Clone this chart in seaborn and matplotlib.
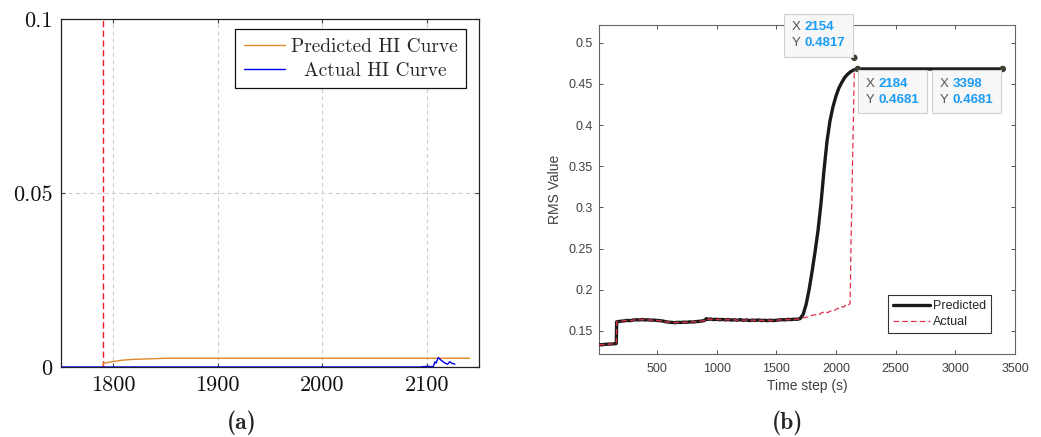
import matplotlib
matplotlib.use("Agg")
import matplotlib.pyplot as plt
import numpy as np
import pandas as pd
import seaborn as sns
from matplotlib.offsetbox import TextArea, HPacker, VPacker, AnnotationBbox

# ---------------- panel (a) data ----------------
a_pred_x = [1790, 1791, 1795, 1800, 1805, 1810, 1820, 1830, 1840, 1850, 1870, 2141]
a_pred_y = [0.0005, 0.0011, 0.0013, 0.0016, 0.0018, 0.0020, 0.0022, 0.0023, 0.0024, 0.0025, 0.0025, 0.0025]
a_act_x = [1750, 2093, 2097, 2101, 2105, 2106, 2108, 2109, 2111, 2114, 2117, 2120, 2122, 2124, 2127]
a_act_y = [0.0, 0.0, 0.0001, 0.0002, 0.0001, 0.0, 0.0015, 0.0011, 0.0027, 0.0019, 0.0012, 0.0008, 0.0015, 0.0011, 0.0008]
a_failure_x = 1790
a_xticks = [1800, 1900, 2000, 2100]
a_xticklabels = ["1800", "1900", "2000", "2100"]
a_yticks = [0, 0.05, 0.1]
a_yticklabels = ["0", "0.05", "0.1"]

# ---------------- panel (b) data ----------------
b_early_x = [15, 40, 70, 100, 130, 160, 163, 175, 200, 225, 250, 275, 300, 325, 350, 375,
             400, 425, 450, 475, 500, 525, 550, 575, 600, 625, 650, 675, 700, 725, 750,
             775, 800, 825, 850, 875, 900, 915, 925, 950, 975, 1000, 1025, 1050, 1075,
             1100, 1125, 1150, 1175, 1200, 1225, 1250, 1275, 1300, 1325, 1350, 1375,
             1400, 1425, 1450, 1475, 1500, 1525, 1550, 1575, 1600, 1625, 1650, 1675, 1700]
b_early_y = [0.1335, 0.1332, 0.1338, 0.1340, 0.1342, 0.1348, 0.1610, 0.1614, 0.1618, 0.1622,
             0.1628, 0.1625, 0.1632, 0.1636, 0.1634, 0.1638, 0.1633, 0.1636, 0.1630, 0.1632,
             0.1628, 0.1625, 0.1620, 0.1612, 0.1606, 0.1604, 0.1600, 0.1605, 0.1603, 0.1607,
             0.1605, 0.1610, 0.1608, 0.1613, 0.1616, 0.1620, 0.1628, 0.1650, 0.1640, 0.1645,
             0.1638, 0.1642, 0.1636, 0.1640, 0.1634, 0.1638, 0.1632, 0.1636, 0.1630, 0.1637,
             0.1628, 0.1634, 0.1626, 0.1632, 0.1628, 0.1633, 0.1627, 0.1630, 0.1625, 0.1631,
             0.1626, 0.1630, 0.1634, 0.1637, 0.1635, 0.1640, 0.1638, 0.1643, 0.1641, 0.1650]
b_pred_tail_x = [1725, 1750, 1775, 1800, 1825, 1850, 1875, 1900, 1925, 1950, 1975, 2000,
                 2025, 2050, 2075, 2100, 2125, 2150, 2184, 3398]
b_pred_tail_y = [0.170, 0.182, 0.200, 0.222, 0.246, 0.272, 0.305, 0.345, 0.380, 0.405, 0.422,
                 0.435, 0.445, 0.452, 0.458, 0.462, 0.465, 0.467, 0.4681, 0.4681]
b_act_tail_x = [1725, 1750, 1775, 1800, 1825, 1850, 1860, 1875, 1890, 1900, 1915, 1930, 1950,
                1965, 1980, 2000, 2015, 2030, 2050, 2065, 2080, 2095, 2110, 2118, 2122, 2128,
                2140, 2148, 2154]
b_act_tail_y = [0.1660, 0.1665, 0.1675, 0.1690, 0.1695, 0.1710, 0.1700, 0.1715, 0.1728, 0.1720,
                0.1735, 0.1722, 0.1738, 0.1745, 0.1740, 0.1762, 0.1775, 0.1768, 0.1795, 0.1788,
                0.1812, 0.1800, 0.1822, 0.1830, 0.2100, 0.2700, 0.3600, 0.4200, 0.4681]
b_tip_x = [2154, 2184, 3398]
b_tip_y = [0.4817, 0.4681, 0.4681]
b_tip_xlabels = ["2154", "2184", "3398"]
b_tip_ylabels = ["0.4817", "0.4681", "0.4681"]
b_xticks = [500, 1000, 1500, 2000, 2500, 3000, 3500]
b_xticklabels = ["500", "1000", "1500", "2000", "2500", "3000", "3500"]
b_yticks = [0.15, 0.2, 0.25, 0.3, 0.35, 0.4, 0.45, 0.5]
b_yticklabels = ["0.15", "0.2", "0.25", "0.3", "0.35", "0.4", "0.45", "0.5"]

assert len(b_early_x) == len(b_early_y)
assert len(b_act_tail_x) == len(b_act_tail_y)

sns.set_theme(style="white")
plt.rcParams["font.family"] = ["Liberation Sans", "DejaVu Sans"]
plt.rcParams["mathtext.fontset"] = "cm"
plt.rcParams["axes.unicode_minus"] = False

fig = plt.figure(figsize=(10.41, 4.37), dpi=100)
ax1 = fig.add_axes([0.0586, 0.1602, 0.4015, 0.7963])
ax2 = fig.add_axes([0.5754, 0.1899, 0.3996, 0.7529])

# ---------------- panel (a) ----------------
CM = "cmr10"
df_ap = pd.DataFrame({"x": a_pred_x, "y": a_pred_y})
df_aa = pd.DataFrame({"x": a_act_x, "y": a_act_y})
ax1.set_xlim(1750, 2150)
ax1.set_ylim(0, 0.1)
ax1.set_xticks(a_xticks)
ax1.set_yticks(a_yticks)
ax1.grid(True, color="#cccccc", linestyle=(0, (3.5, 3)), linewidth=0.8)
ax1.axvline(a_failure_x, color="#ee1c25", linestyle=(0, (4.5, 2.5)), linewidth=1.0, zorder=3)
sns.lineplot(data=df_ap, x="x", y="y", ax=ax1, color="#e08a2c", linewidth=1.0,
             estimator=None, sort=False, label="Predicted HI Curve", zorder=4)
sns.lineplot(data=df_aa, x="x", y="y", ax=ax1, color="#0000ee", linewidth=1.0,
             estimator=None, sort=False, label="  Actual HI Curve", zorder=5)
ax1.set_xticklabels(a_xticklabels, fontfamily=CM, fontsize=16)
ax1.set_yticklabels(a_yticklabels, fontfamily=CM, fontsize=16)
ax1.set_xlabel("")
ax1.set_ylabel("")
ax1.tick_params(direction="in", length=3, width=0.8, color="#444444", pad=6,
                top=True, right=True, bottom=True, left=True, labelcolor="#111111")
for s in ax1.spines.values():
    s.set_color("#222222")
    s.set_linewidth(0.9)
leg1 = ax1.legend(loc="upper right", bbox_to_anchor=(0.969, 0.971), borderaxespad=0,
                  prop={"family": CM, "size": 14}, frameon=True, fancybox=False,
                  edgecolor="#111111", framealpha=1, handlelength=2.1, handletextpad=0.3,
                  labelspacing=0.3, borderpad=0.45)
leg1.get_frame().set_linewidth(0.9)

# ---------------- panel (b) ----------------
pred_x = b_early_x + b_pred_tail_x
pred_y = b_early_y + b_pred_tail_y
act_x = b_early_x + b_act_tail_x
act_y = b_early_y + b_act_tail_y
df_bp = pd.DataFrame({"x": pred_x, "y": pred_y})
df_ba = pd.DataFrame({"x": act_x, "y": act_y})

ax2.set_xlim(15, 3500)
ax2.set_ylim(0.122, 0.5215)
sns.lineplot(data=df_bp, x="x", y="y", ax=ax2, color="#1a1a1a", linewidth=2.4,
             estimator=None, sort=False, label="Predicted", zorder=3)
sns.lineplot(data=df_ba, x="x", y="y", ax=ax2, color="#e3304a", linewidth=0.9,
             estimator=None, sort=False, label="Actual", zorder=4, linestyle=(0, (4.5, 2.5)))
sns.scatterplot(x=b_tip_x, y=b_tip_y, ax=ax2, color="#3c4030", s=22, zorder=6,
                edgecolor="none", legend=False)

ax2.set_xticks(b_xticks)
ax2.set_yticks(b_yticks)
ax2.set_xticklabels(b_xticklabels, fontsize=9)
ax2.set_yticklabels(b_yticklabels, fontsize=9)
ax2.set_xlabel("Time step (s)", fontsize=10, color="#404040", labelpad=3)
ax2.set_ylabel("RMS Value", fontsize=10, color="#404040", labelpad=5)
ax2.tick_params(direction="in", length=3, width=0.7, color="#555555",
                top=True, right=True, bottom=True, left=True, labelcolor="#404040")
ax2.tick_params(axis="x", pad=6.5)
ax2.tick_params(axis="y", pad=4.5)
for s in ax2.spines.values():
    s.set_color("#666666")
    s.set_linewidth(0.8)

leg2 = ax2.legend(loc="lower right", bbox_to_anchor=(0.942, 0.064), borderaxespad=0,
                  prop={"size": 9}, frameon=True, fancybox=False, edgecolor="#333333",
                  framealpha=1, handlelength=3.0, handletextpad=0.2, labelspacing=0.3,
                  borderpad=0.4)
leg2.get_frame().set_linewidth(0.8)
for t in leg2.get_texts():
    t.set_color("#262626")

# data tips (offsets in points include the 5 pt frame padding)
tip_align = [((1, 0), (-6.5, 6)), ((0, 1), (5.7, -6.2)), ((1, 1), (-6.7, -6.2))]
for tx, ty, lx, ly, (balign, off) in zip(b_tip_x, b_tip_y, b_tip_xlabels, b_tip_ylabels, tip_align):
    gray = dict(color="#555555", fontsize=9.5, fontfamily="Liberation Sans")
    blue = dict(color="#1a9cf5", fontsize=9.5, fontweight="bold", fontfamily="Liberation Sans")
    r1 = HPacker(children=[TextArea("X", textprops=gray), TextArea(lx, textprops=blue)],
                 sep=3, pad=0, align="baseline")
    r2 = HPacker(children=[TextArea("Y", textprops=gray), TextArea(ly, textprops=blue)],
                 sep=3, pad=0, align="baseline")
    box = VPacker(children=[r1, r2], sep=3, pad=0, align="left")
    ab = AnnotationBbox(box, (tx, ty), xybox=off, xycoords="data", boxcoords="offset points",
                        box_alignment=balign, frameon=True, pad=0.5,
                        bboxprops=dict(facecolor="#f7f7f7", edgecolor="#d0d0d0",
                                       linewidth=0.8),
                        annotation_clip=False, zorder=7)
    ax2.add_artist(ab)

# captions
fig.text(0.2325, 0.032, "(a)", ha="center", va="center", fontsize=17, fontfamily="cmb10")
fig.text(0.757, 0.033, "(b)", ha="center", va="center", fontsize=17, fontfamily="cmb10")

fig.savefig("out.png", dpi=100)
